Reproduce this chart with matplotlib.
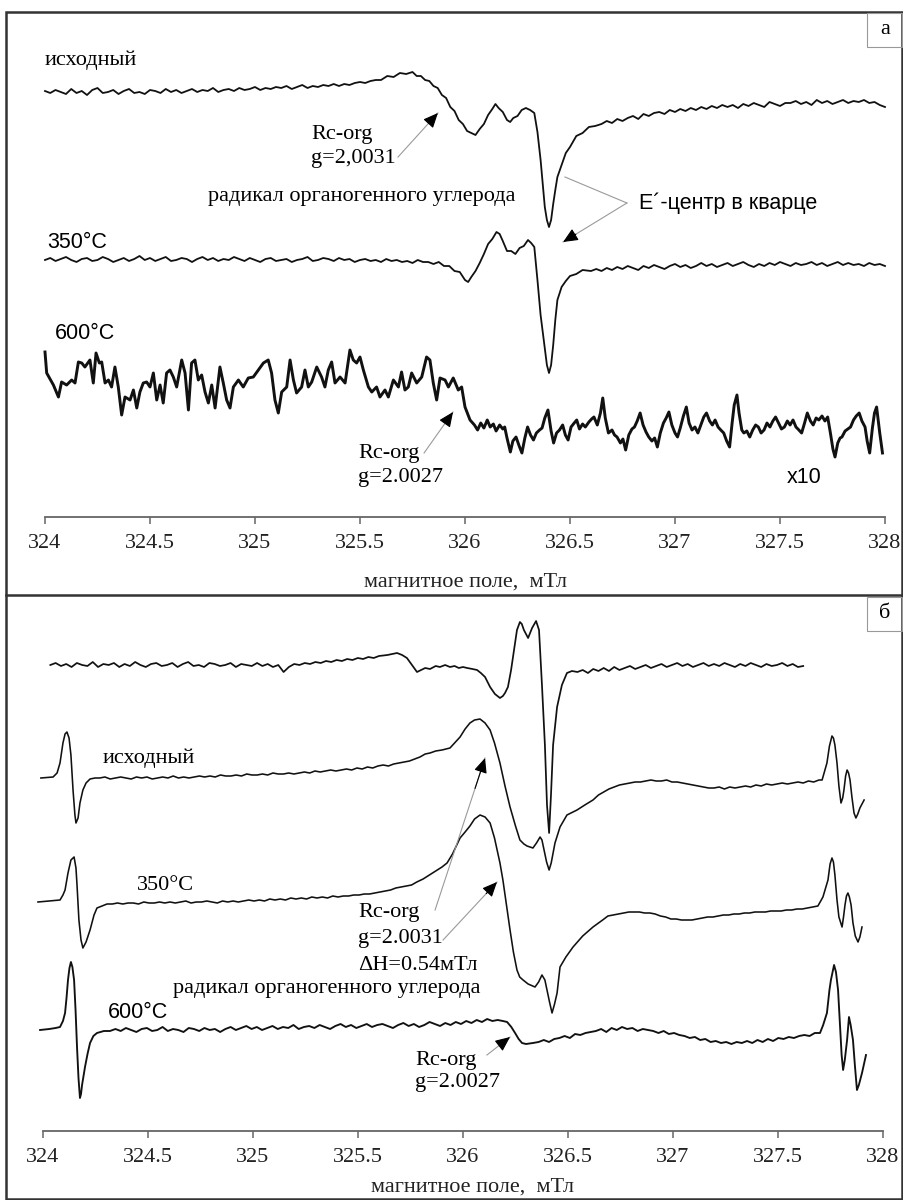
import numpy as np
import matplotlib
matplotlib.use("Agg")
import matplotlib.pyplot as plt
from matplotlib.patches import Rectangle
from matplotlib.lines import Line2D

SERIF = "Liberation Serif"
SANS = "Liberation Sans"

# ---------------- panel a : EPR spectra, signal in arb. units -------------
# each trace is built from segments: (start, stop, values) on an even sweep,
# or explicit (field list, value list) pairs around the lines
a1_left = (324.0, 325.575, [1, -1, 2, 0, -2, 3, -1, 1, -3, 2, 4, -1, 0, 2, -2, 1, 3, -1, 0, -2, 2, 1, -1, 3, 0,
                            2, -1, 1, 3, 0, 2, 1, 4, 0, 2, 3, 1, 4, 2, 3, 5, 2, 4, 3, 5,
                            4, 6, 3, 5, 7, 4, 6, 5, 7, 6, 8, 6,
                            8, 7, 9, 10, 9, 11, 12])
a1_mid_f = [325.60, 325.63, 325.66, 325.69, 325.72, 325.75, 325.77, 325.79, 325.81, 325.83, 325.85,
            325.87, 325.89, 325.91, 325.93, 325.95, 325.97, 325.99, 326.01, 326.03, 326.05, 326.07,
            326.09, 326.11, 326.13, 326.145, 326.16, 326.18, 326.20, 326.215, 326.23, 326.25, 326.27,
            326.29, 326.31, 326.33, 326.345, 326.36, 326.37, 326.38, 326.39, 326.40, 326.41, 326.42,
            326.43, 326.44, 326.46, 326.48, 326.50, 326.53, 326.56, 326.59, 326.62]
a1_mid_s = [12, 16, 15, 19, 18, 20, 16, 16, 12, 11, 6,
            4, -3, -6, -15, -19, -28, -32, -39, -41, -43, -37,
            -32, -23, -17, -12, -16, -20, -28, -30, -26, -24, -18,
            -16, -18, -21, -40, -68, -92, -115, -128, -135, -128, -112,
            -98, -85, -73, -61, -55, -44, -41, -35, -34]
a1_right = (326.65, 328.0, [-32, -29, -31, -27, -29, -26, -24, -27, -22, -24, -21, -20,
                            -22, -18, -20, -17, -19, -16, -18, -15, -17, -14, -16, -13, -15,
                            -13, -16, -12, -14, -11, -13, -15, -10, -12, -14, -11, -11,
                            -9, -12, -10, -13, -8, -11, -9, -12, -10, -8, -11, -9, -10,
                            -8, -11, -10, -13, -15])

a2_left = (324.0, 325.80, [0, 2, -1, 1, 3, 0, -2, 1, 2, -1, 0, 3, 1, -2, 0, 2, -1, 1, 4, 0,
                           2, -1, 1, 3, -1, 0, 2, 1, -2, 1, 3, 0, 2, -1, 1, 0, 3, 1, -1, 2,
                           0, -2, 1, 2, -1, 0, 1, -2, 0, 1, 3, -1, 0, 2, 1, -1, 2, 0, 1, -2,
                           0, 1, -1, 0, -2, 1, -1, 0, -2, -1, -3, 0, -2])
a2_mid_f = [325.825, 325.85, 325.875, 325.90, 325.925, 325.95, 325.975, 326.00, 326.015, 326.03,
            326.05, 326.07, 326.09, 326.11, 326.13, 326.15, 326.165, 326.18, 326.20, 326.22, 326.24,
            326.26, 326.28, 326.30, 326.315, 326.33, 326.345, 326.36, 326.375, 326.39, 326.40,
            326.41, 326.42, 326.43, 326.44, 326.46, 326.48, 326.50, 326.53, 326.56, 326.60]
a2_mid_s = [-2, -4, -2, -6, -6, -11, -12, -20, -22, -17,
            -11, -3, 6, 16, 21, 28, 26, 19, 9, 9, 6,
            12, 14, 20, 17, 13, -20, -55, -80, -105, -113,
            -105, -85, -60, -40, -27, -21, -16, -14, -10, -11]
a2_right = (326.625, 328.0, [-9, -11, -8, -10, -7, -9, -6, -8, -10, -6, -8, -5, -7, -9, -6, -4, -7, -5,
                             -8, -6, -3, -6, -4, -7, -5, -3, -6, -4, -2, -5, -7, -4, -6, -3, -5, -2,
                             -4, -6, -3, -5, -4, -2, -5, -3, -6, -4, -2, -5, -3, -5, -4, -6, -3, -5,
                             -4, -6])

a3_lf = [324.000, 324.008, 324.040, 324.064, 324.079, 324.103, 324.127, 324.143, 324.159, 324.175,
         324.190, 324.214, 324.230, 324.243, 324.259, 324.270, 324.286, 324.302, 324.317, 324.333,
         324.349, 324.365, 324.381, 324.405, 324.421, 324.437, 324.452, 324.468, 324.484, 324.500,
         324.516, 324.532, 324.548, 324.563, 324.579, 324.595, 324.611, 324.627, 324.651, 324.667,
         324.683, 324.698, 324.714, 324.730, 324.746, 324.762, 324.778, 324.794, 324.810, 324.833,
         324.849, 324.865, 324.881, 324.897, 324.921, 324.944, 324.968, 324.992, 325.016, 325.040,
         325.063, 325.079, 325.095, 325.111, 325.127, 325.151, 325.167, 325.183, 325.198, 325.222,
         325.238, 325.254, 325.270, 325.294, 325.317, 325.333, 325.349, 325.365, 325.381, 325.405,
         325.429, 325.452, 325.468, 325.484, 325.500, 325.516, 325.540, 325.556, 325.579, 325.595,
         325.619, 325.635, 325.659, 325.683, 325.698, 325.714, 325.730, 325.746, 325.770, 325.794,
         325.817, 325.833, 325.849, 325.865, 325.881, 325.905, 325.921, 325.944, 325.968, 325.984,
         326.000, 326.024]
a3_ls = [31, 10, -2, -14, 1, -2, 3, 0, 21, 20,
         16, 23, 0, 30, 20, 21, 0, 3, -4, 16,
         -4, -32, -14, -17, -7, -25, -9, 0, 1, -4,
         10, -17, -2, -20, 10, 13, 6, -4, 23, 10,
         -27, 20, 23, 3, 8, -9, -20, -2, -25, 16,
         0, -17, -25, -4, 3, -4, 5, 6, 13, 20,
         23, 10, -17, -30, -9, -4, 23, 3, -10, -4,
         13, -4, 1, 16, 6, -4, 13, 21, 0, 6,
         0, 33, 23, 20, 26, 13, -4, -9, -4, -14,
         -7, -14, 3, -4, 11, -7, -4, 10, 0, 6,
         26, 23, 0, -17, 5, 3, -4, 5, -7, -4,
         -24, -37]
a3_rf = [326.045, 326.06, 326.075, 326.09, 326.106, 326.12, 326.135, 326.148, 326.165, 326.18,
         326.189, 326.2, 326.216, 326.228, 326.243, 326.258, 326.271, 326.285, 326.298, 326.312,
         326.326, 326.34, 326.355, 326.367, 326.38, 326.395, 326.41, 326.422, 326.436, 326.45,
         326.465, 326.478, 326.491, 326.505, 326.52, 326.532, 326.545, 326.56, 326.573, 326.59,
         326.603, 326.614, 326.63, 326.645, 326.656, 326.668, 326.683, 326.7, 326.712, 326.724,
         326.74, 326.752, 326.765, 326.78, 326.795, 326.807, 326.82, 326.834, 326.848, 326.862,
         326.875, 326.89, 326.903, 326.916, 326.93, 326.945, 326.958, 326.971, 326.985, 327.0,
         327.012, 327.025, 327.04, 327.054, 327.067, 327.081, 327.095, 327.109, 327.123, 327.137,
         327.15, 327.165, 327.178, 327.191, 327.205, 327.218, 327.232, 327.246, 327.26, 327.272,
         327.282, 327.295, 327.305, 327.318, 327.328, 327.342, 327.356, 327.37, 327.384, 327.397,
         327.41, 327.424, 327.438, 327.452, 327.466, 327.479, 327.493, 327.507, 327.521, 327.535,
         327.548, 327.562, 327.576, 327.59, 327.603, 327.617, 327.63, 327.645, 327.658, 327.672,
         327.685, 327.7, 327.714, 327.727, 327.74, 327.752, 327.762, 327.775, 327.786, 327.795,
         327.81, 327.823, 327.836, 327.85, 327.863, 327.877, 327.89, 327.905, 327.915, 327.927,
         327.94, 327.95, 327.96, 327.975, 327.988]
a3_rs = [-42, -47, -40, -45, -37, -44, -41, -48, -42, -46,
         -44, -55, -69, -58, -54, -63, -70, -55, -44, -52,
         -57, -50, -47, -45, -35, -27, -48, -60, -50, -47,
         -42, -52, -57, -44, -40, -37, -46, -41, -44, -39,
         -36, -34, -42, -30, -15, -35, -50, -47, -52, -54,
         -60, -56, -67, -52, -46, -44, -38, -30, -42, -49,
         -54, -58, -55, -64, -50, -40, -35, -29, -42, -50,
         -54, -45, -33, -24, -40, -47, -44, -50, -42, -34,
         -30, -38, -42, -37, -44, -47, -50, -58, -64, -40,
         -22, -12, -30, -47, -50, -48, -54, -47, -42, -44,
         -50, -47, -40, -44, -38, -34, -40, -46, -44, -38,
         -42, -37, -44, -47, -50, -40, -30, -38, -42, -35,
         -37, -33, -38, -34, -50, -66, -74, -60, -55, -54,
         -48, -46, -44, -37, -33, -30, -38, -44, -58, -70,
         -45, -30, -24, -50, -70]

# ---------------- panel b --------------------------------------------------
b1_left = (324.035, 325.60, [0, 2, -1, 1, -2, 2, 0, -1, 3, -2, 1, 0, 2, -2, 1, -1, 3, 0, -2, 1,
                             2, -1, 0, 2, -2, 1, 3, -1, 0, -2, 2, 1, -1, 0, 2, -2, 1, 0, -1, 2,
                             -1, 1, -2, 0, -7, -2, 1, 0, 2, 1, 3, 2, 4, 3, 5, 4, 6, 5, 7, 6,
                             8, 7, 9])
b1_mid_f = [325.64, 325.686, 325.71, 325.733, 325.757, 325.781, 325.80, 325.82, 325.843, 325.87,
            325.89, 325.915, 325.938, 325.96, 325.98, 326.0, 326.02, 326.045, 326.067, 326.085,
            326.105, 326.129, 326.152, 326.176, 326.19, 326.2, 326.214, 326.229, 326.243, 326.257,
            326.271, 326.28, 326.29, 326.31, 326.329, 326.348, 326.362, 326.376, 326.39, 326.40,
            326.41, 326.419, 326.429, 326.448, 326.471, 326.495, 326.519]
b1_mid_s = [10, 12, 10, 7, 0, -7, -5, -3, -4, -1,
            -2, 0, -2, -1, -3, -2, -3, -4, -5, -8,
            -12, -22, -29, -33, -31, -28, -22, -5, 15, 35,
            43, 41, 35, 27, 37, 44, 35, -20, -80, -140,
            -168, -130, -80, -42, -20, -8, -6]
b1_right = (326.545, 327.62, [-7, -5, -8, -4, -6, -3, -6, -2, -5, -3, -1, -4, -2, 0, -3, -1, 1, -2,
                              0, 2, -1, 1, -2, 0, 2, -1, 1, -1, 2, 0, -2, 1, -1, 2, 0, -2, 1, -1,
                              0, 2, -1, 1, -2, -1])

b2_lf = [323.99, 324.048, 324.067, 324.081, 324.095, 324.105, 324.114, 324.124, 324.133, 324.143,
         324.152, 324.157, 324.167, 324.176, 324.190, 324.205, 324.224, 324.248]
b2_ls = [0, 1, 5, 15, 35, 44, 46, 40, 23, -12, -37, -45, -40, -25, -12, -5, -1, 0]
b2_flat = (324.27, 325.82, [0, 1, -1, 0, 1, 0, -1, 1, 0, 1, -1, 0, 1, 0, 2, 0, 1, 0, 1,
                            2, 1, 2, 1, 3, 2, 2, 3, 2, 4, 3, 3, 4, 3, 5, 4, 4, 5, 4, 5,
                            6, 5, 7, 6, 7, 8, 7, 8, 9, 8, 10, 9,
                            11, 10, 12, 13, 12, 14, 15,
                            16, 17, 19, 21, 24])
b2_mf = [325.843, 325.87, 325.90, 325.938, 325.96, 325.986, 326.01, 326.033, 326.055, 326.081,
         326.105, 326.129, 326.15, 326.176, 326.20, 326.224, 326.25, 326.271, 326.29, 326.305,
         326.333, 326.35, 326.367, 326.376, 326.386, 326.398, 326.410, 326.42, 326.438, 326.462,
         326.495, 326.543, 326.58, 326.619]
b2_ms = [25, 27, 28, 30, 35, 41, 49, 55, 58, 59,
         55, 48, 35, 15, -8, -29, -48, -62, -66, -68,
         -70, -65, -59, -62, -72, -84, -92, -85, -65, -49,
         -37, -32, -27, -22]
b2_right = (326.645, 327.695, [-17, -14, -11, -9, -7, -6, -5, -4, -4, -3, -2, -3, -3, -2, -4, -4,
                               -5, -6, -7, -8, -9, -10, -10, -9, -11, -9, -10, -9,
                               -8, -9, -7, -8, -6, -7, -6, -5, -6, -5, -4, -5, -3, -4, -2])
b2_rf = [327.71, 327.733, 327.745, 327.757, 327.764, 327.771, 327.781, 327.79, 327.800, 327.808,
         327.814, 327.822, 327.829, 327.836, 327.843, 327.852, 327.862, 327.871, 327.88, 327.890,
         327.91]
b2_rs = [-2, 15, 32, 42, 40, 33, 15, -8, -25, -20,
         -12, 2, 8, 5, -2, -19, -35, -40, -36, -30,
         -22]

b3_lf = [323.976, 324.081, 324.095, 324.105, 324.119, 324.133, 324.148, 324.157, 324.162, 324.171,
         324.181, 324.190, 324.205, 324.224, 324.243, 324.257, 324.305]
b3_ls = [0, 2, 7, 12, 29, 42, 45, 34, 17, -18, -38, -46, -40, -28, -13, -6, -2]
b3_flat = (324.33, 325.755, [-2, -1, -2, -1, -1, -2, 0, -1, -1, 0, -1, 0, -1, 0, 1, -1, 0, 0, 1, 0,
                             -1, 1, 0,
                             1, 0, 1, 2, 1, 2, 1, 3, 2, 3, 2, 4, 3, 4, 3, 5, 4, 5, 4, 6, 5, 6,
                             6, 7, 7,
                             8, 8, 9, 10, 11, 12, 14,
                             15, 16, 17])
b3_mf = [325.78, 325.81, 325.84, 325.87, 325.90, 325.924, 325.95, 325.97, 325.986, 326.01,
         326.033, 326.055, 326.081, 326.105, 326.129, 326.15, 326.176, 326.19, 326.207, 326.224,
         326.24, 326.257, 326.27, 326.286, 326.31, 326.343, 326.36, 326.376, 326.39, 326.400,
         326.412, 326.424, 326.436, 326.448, 326.462, 326.49, 326.524, 326.57, 326.619, 326.665]
b3_ms = [20, 23, 27, 31, 35, 39, 48, 57, 64, 70,
         76, 83, 87, 85, 79, 64, 39, 22, -3, -28,
         -50, -68, -75, -78, -82, -85, -80, -73, -78, -88,
         -100, -111, -102, -91, -65, -55, -45, -34, -25, -18]
b3_right = (326.69, 327.69, [-14, -13, -12, -11, -10, -10, -10, -11, -11, -12, -14, -15, -17,
                             -17, -18, -18, -18, -17, -16, -15, -15, -14, -13, -13,
                             -12, -12, -11, -11, -10, -10, -10, -9, -9,
                             -9, -8, -8, -7, -7, -6, -5, -4])
b3_rf = [327.714, 327.728, 327.738, 327.748, 327.757, 327.764, 327.771, 327.781, 327.79, 327.805,
         327.812, 327.819, 327.826, 327.833, 327.84, 327.848, 327.857, 327.868, 327.881, 327.89,
         327.9]
b3_rs = [5, 15, 22, 38, 44, 40, 27, 2, -15, -25,
         -15, -3, 6, 9, 5, -3, -21, -34, -40, -35,
         -25]

b4_lf = [323.986, 324.03, 324.06, 324.081, 324.095, 324.105, 324.112, 324.119, 324.126, 324.133,
         324.14, 324.148, 324.155, 324.162, 324.169, 324.176, 324.181, 324.186, 324.2, 324.212,
         324.224, 324.24, 324.257, 324.29, 324.319]
b4_ls = [0, 1, 2, 3, 9, 17, 32, 50, 62, 68,
         63, 50, 20, -17, -48, -68, -64, -55, -37, -24,
         -13, -6, -3, -1, -1]
b4_flat = (324.345, 326.14, [1, -1, 2, 0, -2, 1, 2, -1, 0, 3, -1, 1, 0, -2, 2, 1, -1, 2, 0, 1,
                             -2, 1, 3,
                             0, 2, 4, 1, 3, 0, 2, 4, 1, 3, 2, 5, 1, 3, 4, 2, 5, 3, 1, 4, 6, 3,
                             5, 2, 4, 6, 3, 5,
                             6, 4, 2, 5, 7, 4, 6, 3, 5, 8, 6, 4, 7, 5, 8, 6, 9, 7, 10, 8, 11, 9])
b4_mf = [326.165, 326.19, 326.21, 326.23, 326.248, 326.265, 326.281, 326.3, 326.333]
b4_ms = [10, 9, 8, 3, -3, -9, -13, -14, -13]
b4_right = (326.36, 327.70, [-12, -10, -12, -9, -8, -6, -8, -4, -5, -3, -2, -1, 1, -2, 2, 0, 3,
                             1, 2, -1, 1, 0, -1, -3, -1, -4, -3, -5, -6, -8, -7, -10, -9, -12,
                             -11, -13, -12, -14, -12, -13, -11, -13, -10, -12, -9, -11, -8, -9,
                             -7, -8, -6, -5, -6, -3, -3])
b4_rf = [327.715, 327.733, 327.745, 327.752, 327.767, 327.776, 327.786, 327.795, 327.803, 327.810,
         327.818, 327.829, 327.838, 327.846, 327.857, 327.866, 327.876, 327.885, 327.9, 327.919]
b4_rs = [5, 17, 40, 50, 65, 58, 40, 5, -25, -40,
         -30, -10, 13, 5, -10, -35, -60, -55, -43, -25]


def sweep(seg):
    start, stop, vals = seg
    return np.linspace(start, stop, len(vals)), np.array(vals, float)


def build(*parts):
    fs, ss = [], []
    for p in parts:
        if len(p) == 3:
            f, s = sweep(p)
        else:
            f, s = np.array(p[0], float), np.array(p[1], float)
        fs.append(f)
        ss.append(s)
    return np.concatenate(fs), np.concatenate(ss)


a1 = build(a1_left, (a1_mid_f, a1_mid_s), a1_right)
a2 = build(a2_left, (a2_mid_f, a2_mid_s), a2_right)
a3 = build((a3_lf, a3_ls), (a3_rf, a3_rs))
b1 = build(b1_left, (b1_mid_f, b1_mid_s), b1_right)
b2 = build((b2_lf, b2_ls), b2_flat, (b2_mf, b2_ms), b2_right, (b2_rf, b2_rs))
b3 = build((b3_lf, b3_ls), b3_flat, (b3_mf, b3_ms), b3_right, (b3_rf, b3_rs))
b4 = build((b4_lf, b4_ls), b4_flat, (b4_mf, b4_ms), b4_right, (b4_rf, b4_rs))

ticks = [324, 324.5, 325, 325.5, 326, 326.5, 327, 327.5, 328]
xlabel = "магнитное поле,  мТл"

W, H = 904, 1200
FS = 16      # serif text size
FS_SANS = 15.5
fig = plt.figure(figsize=(W / 100, H / 100), dpi=100)


def fx(px):
    return px / W


def fy(py):
    return 1 - py / H


def style_axis(ax, ymax):
    ax.set_xlim(324, 328)
    ax.set_ylim(0, ymax)
    for side in ("left", "right", "top"):
        ax.spines[side].set_visible(False)
    ax.spines["bottom"].set_color("#666666")
    ax.spines["bottom"].set_linewidth(1.3)
    ax.set_yticks([])
    ax.set_xticks(ticks)
    ax.set_xticklabels([f"{t:g}" for t in ticks], fontfamily=SERIF, fontsize=FS)
    ax.tick_params(axis="x", direction="out", length=5, width=1.1, color="#666666",
                   pad=7, labelcolor="#222222")
    ax.patch.set_alpha(0)


def arrow(ax, start, end, head=True):
    ax.plot([start[0], end[0]], [start[1], end[1]], color="#9a9a9a", lw=0.8,
            clip_on=False, zorder=3)
    if head:
        x0 = start[0] + 0.8 * (end[0] - start[0])
        y0 = start[1] + 0.8 * (end[1] - start[1])
        ax.annotate("", xy=end, xytext=(x0, y0),
                    arrowprops=dict(arrowstyle="-|>,head_length=0.9,head_width=0.4",
                                    color="black", lw=0.8, shrinkA=0, shrinkB=0),
                    annotation_clip=False)


# ---- panel a ----
ax_a = fig.add_axes([fx(45), fy(517), 840 / W, 500 / H])
style_axis(ax_a, 500)
for (f, s), off, lw in ((a1, 425, 1.3), (a2, 257, 1.3), (a3, 134, 2.1)):
    ax_a.plot(f, s + off, color="#111111", lw=lw, clip_on=False, solid_joinstyle="round")

ax_a.text(324.0, 457, "исходный", family=SERIF, fontsize=FS, va="center")
ax_a.text(325.267, 382, "Rc-org", family=SERIF, fontsize=FS, va="center")
ax_a.text(325.267, 359, "g=2,0031", family=SERIF, fontsize=FS, va="center")
arrow(ax_a, (325.681, 360), (325.871, 404))
ax_a.text(324.776, 320, "радикал органогенного углерода", family=SERIF, fontsize=FS, va="center")
ax_a.text(326.83, 314, "E´-центр в кварце", family=SANS, fontsize=FS_SANS, va="center")
arrow(ax_a, (326.771, 314), (326.476, 340), head=False)
arrow(ax_a, (326.771, 314), (326.467, 275))
ax_a.text(324.01, 274, "350°C", family=SANS, fontsize=FS_SANS, va="center")
ax_a.text(324.048, 184, "600°C", family=SANS, fontsize=FS_SANS, va="center")
ax_a.text(325.49, 64, "Rc-org", family=SERIF, fontsize=FS, va="center")
ax_a.text(325.49, 40, "g=2.0027", family=SERIF, fontsize=FS, va="center")
arrow(ax_a, (325.805, 64), (325.943, 105))
ax_a.text(327.533, 40, "x10", family=SANS, fontsize=FS_SANS, va="center")

# ---- panel b ----
ax_b = fig.add_axes([fx(43), fy(1131), 840 / W, 531 / H])
style_axis(ax_b, 531)
for (f, s), off, lw in ((b1, 466, 1.25), (b2, 353, 1.15), (b3, 229, 1.15), (b4, 101, 1.35)):
    ax_b.plot(f, s + off, color="#111111", lw=lw, clip_on=False, solid_joinstyle="round")

ax_b.text(324.286, 373, "исходный", family=SERIF, fontsize=FS, va="center")
ax_b.text(324.448, 245, "350°C", family=SERIF, fontsize=FS, va="center")
ax_b.text(324.31, 118, "600°C", family=SANS, fontsize=FS_SANS, va="center")
ax_b.text(325.5, 218, "Rc-org", family=SERIF, fontsize=FS, va="center")
ax_b.text(325.5, 193, "g=2.0031", family=SERIF, fontsize=FS, va="center")
ax_b.text(325.5, 166, "ΔH=0.54мТл", family=SERIF, fontsize=FS, va="center")
ax_b.text(324.619, 143, "радикал органогенного углерода", family=SERIF, fontsize=FS, va="center")
arrow(ax_b, (325.867, 221), (326.105, 373))
arrow(ax_b, (325.905, 191), (326.162, 249))
ax_b.text(325.771, 71, "Rc-org", family=SERIF, fontsize=FS, va="center")
ax_b.text(325.771, 48, "g=2.0027", family=SERIF, fontsize=FS, va="center")
arrow(ax_b, (326.114, 76), (326.224, 94))

# axis titles
fig.text(fx(466), fy(582), xlabel, family=SERIF, fontsize=FS, ha="center", va="center", color="#222222")
fig.text(fx(473), fy(1187), xlabel, family=SERIF, fontsize=FS, ha="center", va="center", color="#222222")

# frame, divider and panel letters
fig.add_artist(Rectangle((fx(6), fy(1199)), (902 - 6) / W, (1199 - 12) / H, transform=fig.transFigure,
                         fill=False, edgecolor="#333333", lw=1.8))
fig.add_artist(Line2D([fx(6), fx(902)], [fy(595), fy(595)], transform=fig.transFigure,
                      color="#333333", lw=1.8))
for top, letter in ((13, "а"), (597, "б")):
    fig.add_artist(Rectangle((fx(867), fy(top + 34)), 35 / W, 34 / H, transform=fig.transFigure,
                             fill=False, edgecolor="#999999", lw=0.8))
    fig.text(fx(885), fy(top + 17), letter, family=SERIF, fontsize=FS, ha="center", va="center")

fig.savefig("out.png", dpi=100)
